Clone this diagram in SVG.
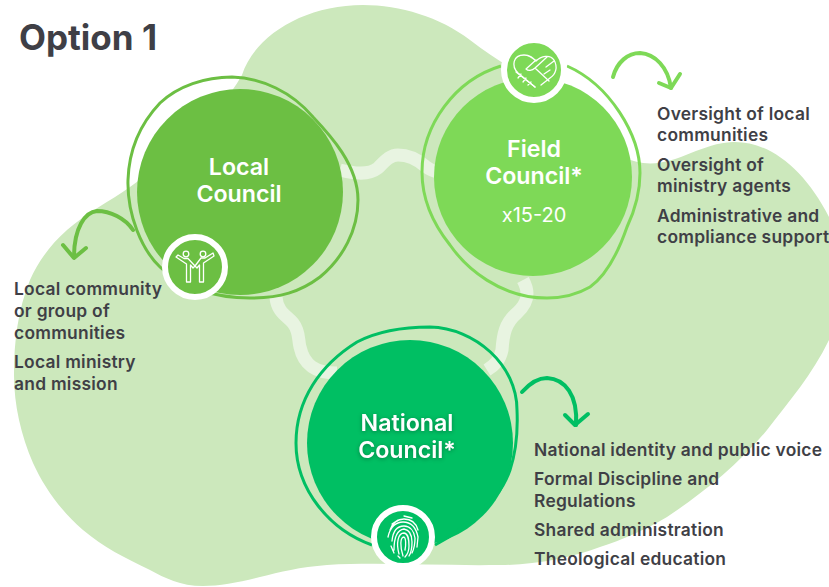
<svg xmlns="http://www.w3.org/2000/svg" width="829" height="587" viewBox="0 0 829 587">
<style>
.t{font-family:"Inter","Liberation Sans",sans-serif;font-weight:600;font-size:17.4px;letter-spacing:.26px;fill:#3f3f46}
.n{font-family:"Inter","Liberation Sans",sans-serif;font-weight:600;font-size:23.2px;fill:#fff;text-anchor:middle}
.ic{fill:none;stroke:#fff;stroke-width:1.3;stroke-linecap:round;stroke-linejoin:round}
.ar{fill:none;stroke-width:4;stroke-linecap:round;stroke-linejoin:round}
.ring{fill:none;stroke-width:3}
.w{fill:none;stroke:#e8f4e1;stroke-width:13}
</style>
<rect width="829" height="587" fill="#fff"/>
<path id="blob" fill="#cce8bc" d="M242 75C255 35 305 5 363 5C400 5 440 17 470 40C505 67 535 80 567 105C590 125 608 158 643 163C675 167 700 143 733 142C770 141 805 170 829 217L829 340C812 375 790 400 767 430C738 465 703 493 667 517C645 530 622 540 600 547C570 558 535 565 500 565C440 566 380 562 327 565C300 567 280 572 260 577C240 582 220 586 203 586C180 586 165 578 150 570C125 558 103 547 83 530C60 510 44 487 33 463C21 435 14 405 14 375C14 340 18 310 30 280C38 262 50 245 67 230C85 214 110 201 130 187C170 158 215 122 242 75Z"/>
<g id="connectors">
<path class="w" d="M340 170C352 173 368 176 378 168C385 161 390 155 398 155C410 155 418 160 425 166C430 170 435 172 442 173"/>
<path class="w" d="M276 297C277 312 287 316 293 323C300 332 298 340 300 347C304 365 315 373 337 373"/>
<path class="w" d="M523 280C530 293 528 303 517 313C505 323 503 335 502 350C500 360 495 365 487 370"/>
<g class="ar" stroke="#6cbf43"><path d="M133 230C125 218 110 211 97 211C85 212 74 228 74 257"/><path d="M63 245L74 258L86 248"/></g>
<g class="ar" stroke="#7ed957"><path d="M613 77C617 62 628 53 640 53C655 54 668 67 671 88"/><path d="M659 83L671 88L680 74"/></g>
<g class="ar" stroke="#00bf63"><path d="M522 392C530 383 538 378 547 378C565 379 578 395 576 425"/><path d="M565 415L575 425L588 414"/></g>
</g>
<g id="local-council">
<circle cx="240" cy="192" r="103" fill="#6cbf43"/>
<path class="ring" stroke="#6cbf43" d="M128 180C129 148 142 122 160 103C178 86 205 77 232 77C262 78 292 92 313 117C330 135 358 165 358 200C358 230 343 258 320 277C300 292 280 298 250 298C215 298 180 287 160 267C142 250 127 215 128 180Z"/>
<text class="n" x="239" y="175">Local</text>
<text class="n" x="239" y="202">Council</text>
<circle cx="195" cy="267" r="30" fill="#6cbf43" stroke="#fff" stroke-width="6"/>
<g class="ic"><circle cx="186" cy="254" r="2.8"/><circle cx="203" cy="254" r="2.8"/><path d="M176 257L178 255L184 258.500H188L195 266L193 268L190.500 265V282H186.500V264Z"/><path d="M214 256L213 253L205 258H201L195 266L197 268L199.500 265V282H203.500V263Z"/></g>
</g>
<g id="field-council">
<circle cx="533" cy="177" r="99" fill="#7ed957"/>
<path class="ring" stroke="#7ed957" d="M501 66C455 80 422 125 422 172C422 200 434 225 450 245C466 268 500 298 547 298C565 298 578 294 590 287C607 275 619 250 627 227C636 208 640 190 640 173C640 135 610 85 567 66"/>
<text class="n" x="534" y="157">Field</text>
<text class="n" x="534" y="184">Council*</text>
<text x="534" y="222" font-family="Inter,'Liberation Sans',sans-serif" font-size="20" fill="#fff" text-anchor="middle">x15-20</text>
<circle cx="534" cy="70" r="30" fill="#7ed957" stroke="#fff" stroke-width="6"/>
<g class="ic"><path d="M535 87L518 73C511 66 513 55 524 55C530 55 533 58 536 61C541 56 550 54 554 60C558 67 556 74 550 78L541 85"/><path d="M547 57L535 68C532 71 528 71 526 69L536 60M535 68L549 81M554 61L546 67M544 74L550 70M516 72L535 87M521 74L518 78M526 78L523 82M531 82L528 85"/></g>
</g>
<g id="national-council">
<circle cx="410" cy="443" r="103" fill="#00bf63"/>
<path class="ring" stroke="#00bf63" d="M372 545C330 530 296 490 296 443C296 400 320 365 357 342C380 330 405 327 430 327C475 328 517 365 517 410C518 432 516 452 510 470C503 490 492 502 477 513C465 527 450 537 435 545"/>
<g style="filter:drop-shadow(0 1px 2px rgba(0,60,30,.45))"><text class="n" x="407" y="431">National</text>
<text class="n" x="407" y="458">Council*</text></g>
<circle cx="403" cy="537" r="29" fill="#00bf63" stroke="#fff" stroke-width="6"/>
<g class="ic"><path d="M390 530C393 522 398 519 404 519C411 519 416 523 418 530M388 537C390 527 396 522 403 522C411 522 416 527 418 537L417 547M392 541C393 530 398 526 404 526C410 526 414 531 415 538C415 544 414 549 412 553M394 550C394 538 397 530 404 529C410 530 412 536 412 542C412 548 411 553 409 556M399 554C396 543 398 533 404 533C409 534 409 541 409 546C409 551 407 555 405 557M403 556C400 547 400 537 404 537C406 538 406 545 405 550M404 516L412 518M392 524L398 520M391 546L394 553M398 556L400 558"/></g>
</g>
<text x="19" y="50" font-family="Inter,'Liberation Sans',sans-serif" font-weight="700" font-size="35" fill="#3f3f46">Option 1</text>
<g id="field-text" class="t"><text x="657" y="120">Oversight of local</text><text x="657" y="141">communities</text><text x="657" y="171">Oversight of</text><text x="657" y="192">ministry agents</text><text x="657" y="222">Administrative and</text><text x="657" y="243">compliance support</text></g>
<g id="local-text" class="t"><text x="14" y="295">Local community</text><text x="14" y="317">or group of</text><text x="14" y="339">communities</text><text x="14" y="368">Local ministry</text><text x="14" y="390">and mission</text></g>
<g id="national-text" class="t"><text x="534" y="456">National identity and public voice</text><text x="534" y="485">Formal Discipline and</text><text x="534" y="507">Regulations</text><text x="534" y="536">Shared administration</text><text x="534" y="565">Theological education</text></g>
</svg>
